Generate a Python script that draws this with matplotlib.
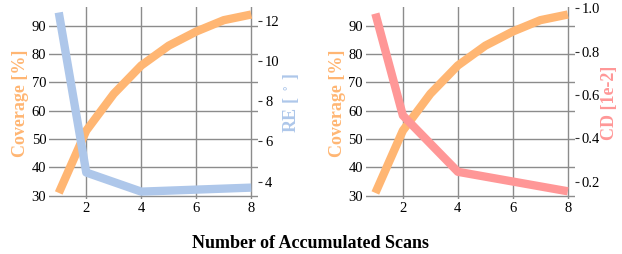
import numpy as np
import matplotlib.pyplot as plt

plt.rcParams['font.family'] = ['Liberation Serif', 'DejaVu Serif']
plt.rcParams['mathtext.fontset'] = 'stix'

scans = [1, 2, 3, 4, 5, 6, 7, 8]
coverage = [31, 53, 66, 76, 83, 88, 92, 94]

re_scans = [1, 2, 4, 6, 8]
re_vals = [12.4, 4.45, 3.5, 3.6, 3.7]

cd_scans = [1, 2, 4, 6, 8]
cd_vals = [0.975, 0.505, 0.245, 0.2, 0.155]

c_cov = '#FFB673'
c_re = '#AEC7EA'
c_cd = '#FF9797'
c_grid = '#8c8c8c'

fig = plt.figure(figsize=(6.22, 2.54), dpi=100)

def panel(left, xs, ys, color, label, ylim2, ticks2):
    ax = fig.add_axes([left, 0.217, 0.336, 0.756])
    ax.plot(scans, coverage, color=c_cov, lw=6, solid_capstyle='butt')
    ax.set_xlim(0.65, 8.25)
    ax.set_ylim(28.9, 96.7)
    ax.set_yticks([30, 40, 50, 60, 70, 80, 90])
    ax.set_xticks([2, 4, 6, 8])
    ax.grid(True, color=c_grid, lw=1)
    for s in ax.spines.values():
        s.set_visible(False)
    ax.tick_params(length=0, labelsize=10.5, pad=2)
    ax.set_ylabel('Coverage [%]', color=c_cov, fontsize=13, fontweight='bold', labelpad=2)

    ax2 = ax.twinx()
    ax2.plot(xs, ys, color=color, lw=6, solid_capstyle='butt')
    ax2.set_ylim(*ylim2)
    ax2.set_yticks(ticks2)
    for s in ax2.spines.values():
        s.set_visible(False)
    ax2.tick_params(axis='y', length=3, width=0.8, color='#333333', labelsize=10.5, pad=2)
    ax2.set_ylabel(label, color=color, fontsize=13, fontweight='bold', labelpad=1)
    return ax, ax2

panel(0.079, re_scans, re_vals, c_re, r'RE [ $^\circ$ ]', (3.14, 12.68), [4, 6, 8, 10, 12])
panel(0.588, cd_scans, cd_vals, c_cd, 'CD [1e-2]', (0.12, 1.006), [0.2, 0.4, 0.6, 0.8, 1.0])

fig.text(0.5, 0.043, 'Number of Accumulated Scans', ha='center', va='center',
         fontsize=13, fontweight='bold')

plt.savefig('out.png', dpi=100)
